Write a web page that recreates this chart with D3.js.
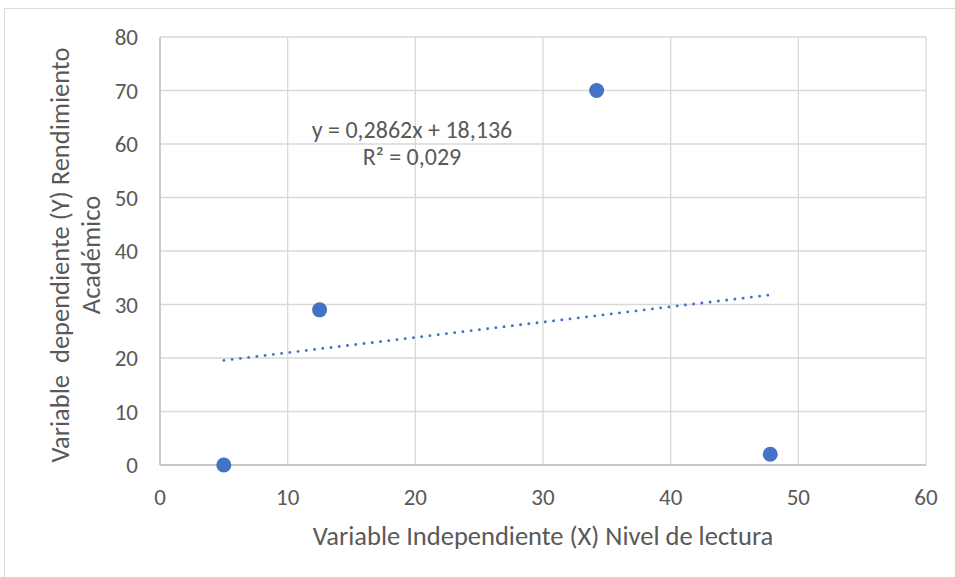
<!DOCTYPE html>
<html><head><meta charset="utf-8">
<script src="https://cdn.jsdelivr.net/npm/d3@7"></script>
<style>body{margin:0;background:#fff}svg{display:block}text{font-family:Carlito,"Open Sans",sans-serif;fill:#595959;white-space:pre}</style>
</head><body><svg id="c" width="955" height="577"></svg>
<script>
const xValues = [5, 12.5, 34.2, 47.8];
const yValues = [0, 29, 70, 2];
const xTicks = [0, 10, 20, 30, 40, 50, 60];
const yTicks = [0, 10, 20, 30, 40, 50, 60, 70, 80];
const slope = 0.2862, intercept = 18.136;
const eqLabel = "y = 0,2862x + 18,136";
const r2Label = "R² = 0,029";
const xTitle = "Variable Independiente (X) Nivel de lectura";
const yTitle = ["Variable  dependiente (Y) Rendimiento", "Académico"];

const svg = d3.select("#c");
svg.append("rect").attr("x",4.5).attr("y",8.5).attr("width",960).attr("height",580).attr("fill","#fff").attr("stroke","#d9d9d9");
const x = d3.scaleLinear().domain([0,60]).range([160,926]);
const y = d3.scaleLinear().domain([0,80]).range([465,37]);
const g = svg.append("g");
g.selectAll(".vg").data(xTicks).join("line").attr("x1",d=>x(d)).attr("x2",d=>x(d)).attr("y1",y(0)).attr("y2",y(80)).attr("stroke","#d9d9d9").attr("stroke-width",1.3);
g.selectAll(".hg").data(yTicks).join("line").attr("y1",d=>y(d)).attr("y2",d=>y(d)).attr("x1",x(0)).attr("x2",x(60)).attr("stroke","#d9d9d9").attr("stroke-width",1.3);
g.append("line").attr("x1",x(0)).attr("x2",x(60)).attr("y1",y(0)).attr("y2",y(0)).attr("stroke","#bfbfbf").attr("stroke-width",1.3);
g.append("line").attr("x1",x(0)).attr("x2",x(0)).attr("y1",y(0)).attr("y2",y(80)).attr("stroke","#bfbfbf").attr("stroke-width",1.3);
g.selectAll(".xt").data(xTicks).join("text").attr("x",d=>x(d)).attr("y",505).attr("text-anchor","middle").attr("font-size",23).text(d=>d);
g.selectAll(".yt").data(yTicks).join("text").attr("x",138).attr("y",d=>y(d)+8).attr("text-anchor","end").attr("font-size",23).text(d=>d);
// trendline
const x0 = d3.min(xValues), x1 = d3.max(xValues);
g.append("line").attr("x1",x(x0)).attr("y1",y(slope*x0+intercept)).attr("x2",x(x1)).attr("y2",y(slope*x1+intercept))
 .attr("stroke","#4472C4").attr("stroke-width",2.8).attr("stroke-dasharray","0.1 8.2").attr("stroke-linecap","round");
g.selectAll(".pt").data(xValues.map((v,i)=>[v,yValues[i]])).join("circle").attr("cx",d=>x(d[0])).attr("cy",d=>y(d[1])).attr("r",7.5).attr("fill","#4472C4");
g.append("text").attr("x",412).attr("y",138).attr("text-anchor","middle").attr("font-size",24).text(eqLabel);
g.append("text").attr("x",412).attr("y",165).attr("text-anchor","middle").attr("font-size",24).text(r2Label);
g.append("text").attr("x",543).attr("y",545).attr("text-anchor","middle").attr("font-size",26.5).text(xTitle);
yTitle.forEach((t,i)=>{
  g.append("text").attr("transform",`translate(${69+i*31},${255}) rotate(-90)`).attr("text-anchor","middle").attr("font-size",26.5).text(t);
});
</script></body></html>
